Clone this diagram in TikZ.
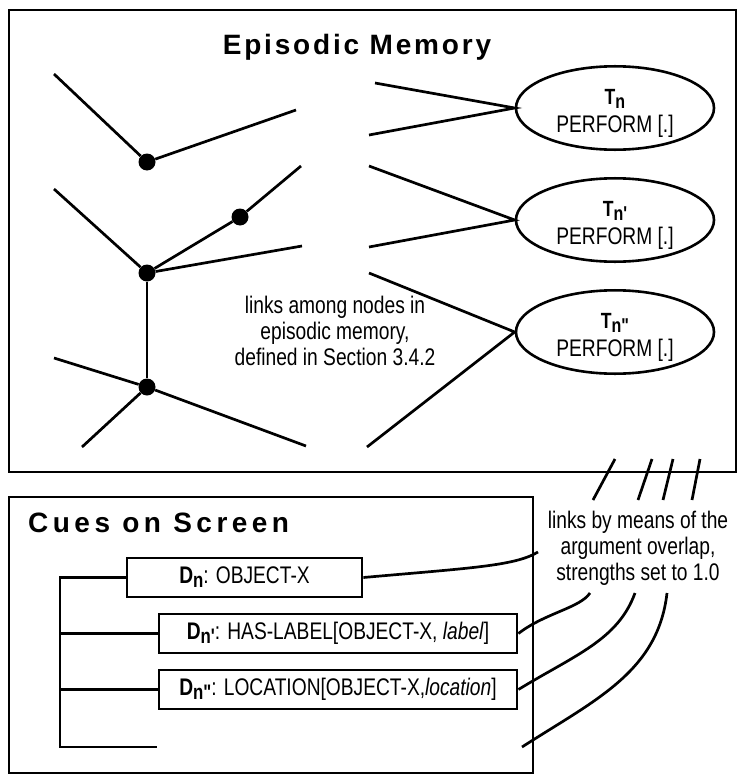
\documentclass[tikz,border=0pt]{standalone}
\usepackage{fontspec}
\setmainfont{Liberation Sans}
\newfontfamily\narrowfont[FakeStretch=0.8]{Liberation Sans}
\usetikzlibrary{shapes.geometric}

\tikzset{
  dot/.style={shape=circle,fill=black,inner sep=0pt,minimum size=17pt},
  task/.style={shape=ellipse,draw=black,line width=2.6pt,minimum width=198pt,minimum height=79pt,inner sep=0pt,align=center,font=\narrowfont\fontsize{24}{24}\selectfont},
  cue/.style={shape=rectangle,draw=black,line width=2.8pt,minimum height=39pt,inner sep=0pt,font=\narrowfont\fontsize{24}{26}\selectfont},
  note/.style={align=center,inner sep=0pt,font=\narrowfont\fontsize{24}{26}\selectfont},
  frame/.style={draw=black,line width=2.8pt},
  title/.style={inner sep=0pt,font=\fontsize{28}{32}\selectfont\bfseries},
  link/.style={line width=2.7pt}
}
\newcommand{\tlabel}[1]{{\fontsize{22}{22}\selectfont\bfseries T\raisebox{-4pt}{\fontsize{20}{20}\selectfont n#1}}}
\newcommand{\dlabel}[1]{{\fontsize{24}{24}\selectfont\bfseries D\raisebox{-4pt}{\fontsize{21}{21}\selectfont n#1}}}

\begin{document}
\begin{tikzpicture}[x=1pt,y=-1pt]
  \useasboundingbox (0,0) rectangle (739,776);

  % the two panels
  \draw[frame] (9,10) rectangle (736,472);
  \draw[frame] (9,497) rectangle (533,773);
  \node[title] (em) at (357,47) {\addfontfeature{LetterSpace=10}Episodic Memory};
  \node[title,anchor=west] (cs) at (28,523) {\addfontfeature{LetterSpace=16}Cues on Screen};

  % episodic memory
  \node[dot] (na) at (147,162) {};
  \node[dot] (nb) at (147,273) {};
  \node[dot] (nc) at (240,217) {};
  \node[dot] (nd) at (147,387) {};
  \node[task] (tn) at (615,108) {\rule{0pt}{26pt}\tlabel{}\\[4pt]PERFORM [.]};
  \node[task] (tnp) at (615,220) {\rule{0pt}{26pt}\tlabel{\char"0027}\\[4pt]PERFORM [.]};
  \node[task] (tnpp) at (615,332) {\rule{0pt}{26pt}\tlabel{\char"0022}\\[4pt]PERFORM [.]};
  \node[note] (among) at (335,331) {links among nodes in\\episodic memory,\\defined in Section 3.4.2};

  \coordinate (a1) at (54,74);
  \coordinate (a2) at (296,110);
  \coordinate (b1) at (54,189);
  \coordinate (b2) at (301,166);
  \coordinate (b3) at (302,246);
  \coordinate (d1) at (54,358);
  \coordinate (d2) at (82,447);
  \coordinate (d3) at (306,446);
  \coordinate (t1) at (375,83);
  \coordinate (t2) at (369,135);
  \coordinate (t3) at (369,166);
  \coordinate (t4) at (369,247);
  \coordinate (t5) at (369,273);
  \coordinate (t6) at (367,447);

  \draw[link] (a1) -- (na) -- (a2);
  \draw[link] (b1) -- (nb) -- (nc) -- (b2);
  \draw[link] (nb) -- (b3);
  \draw[link] (nb) -- (nd);
  \draw[link] (d1) -- (nd) -- (d3);
  \draw[link] (nd) -- (d2);
  \draw[link] (t1) -- (tn.west) -- (t2);
  \draw[link] (t3) -- (tnp.west) -- (t4);
  \draw[link] (t5) -- (tnpp.west) -- (t6);

  % cues on screen
  \node[cue,minimum width=235pt] (dn) at (244.5,577.5) {\dlabel{}: OBJECT-X};
  \node[cue,minimum width=358pt] (dnp) at (338,633.5) {\dlabel{\char"0027}: HAS-LABEL[OBJECT-X, \textit{label}]};
  \node[cue,minimum width=358pt] (dnpp) at (338,689.5) {\dlabel{\char"0022}: LOCATION[OBJECT-X,\textit{location}]};
  \node[note] (overlap) at (638,548) {links by means of the\\argument overlap,\\strengths set to 1.0};

  \coordinate (trunk) at (60,0);
  \coordinate (cueend) at (157,747);
  \draw[link] (dn.west) -- (dn.west -| trunk) -- (trunk |- cueend) -- (cueend);
  \draw[link] (dnp.west) -- (dnp.west -| trunk);
  \draw[link] (dnpp.west) -- (dnpp.west -| trunk);

  % links across the panels
  \coordinate (k1) at (615,459);
  \coordinate (k2) at (593,500);
  \coordinate (k3) at (652,459);
  \coordinate (k4) at (638,500);
  \coordinate (k5) at (673,459);
  \coordinate (k6) at (663,500);
  \coordinate (k7) at (700,459);
  \coordinate (k8) at (692,500);
  \draw[link] (k1) -- (k2);
  \draw[link] (k3) -- (k4);
  \draw[link] (k5) -- (k6);
  \draw[link] (k7) -- (k8);

  \coordinate (c1) at (538,552);
  \coordinate (c2) at (590,593);
  \coordinate (c3) at (635,593);
  \coordinate (c4) at (667,593);
  \coordinate (c5) at (522,747);
  \draw[link] (dn.east) .. controls (470,568) and (515,566) .. (c1);
  \draw[link] (dnp.east) .. controls (545,613) and (580,608) .. (c2);
  \draw[link] (dnpp.east) .. controls (575,655) and (618,640) .. (c3);
  \draw[link] (c5) .. controls (595,700) and (658,672) .. (c4);
\end{tikzpicture}
\end{document}
